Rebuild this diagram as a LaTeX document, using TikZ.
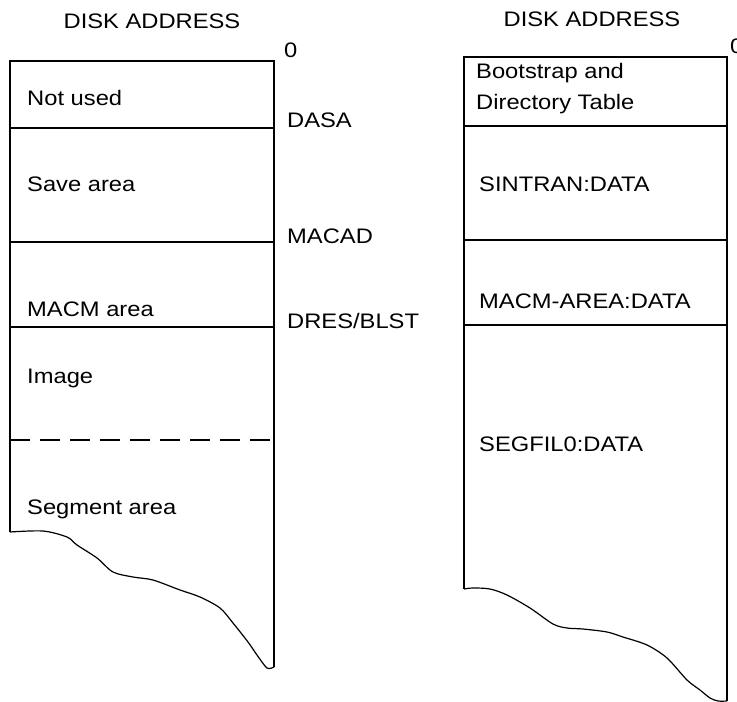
\documentclass[tikz,border=0pt]{standalone}
\usepackage{fontspec}
\setmainfont{Liberation Sans}[FakeStretch=1.13]
\begin{document}
\begin{tikzpicture}[x=1pt,y=-1pt,
  wall/.style={line width=1.7pt},
  sep/.style={line width=1.4pt},
  lbl/.style={anchor=west,inner sep=0pt,font=\fontsize{21}{25}\selectfont},
  hdr/.style={inner sep=0pt,font=\fontsize{21}{25}\selectfont},
  curve/.style={line width=1.2pt}]
\useasboundingbox (0,0) rectangle (737,702);
% headers
\node[hdr] (h1) at (152,21) {DISK ADDRESS};
\node[hdr] (h2) at (592,19) {DISK ADDRESS};
% left column
\draw[wall] (10,532) -- (10,61) -- (274,61) -- (274,667);
\draw[sep] (10,128) -- (274,128);
\draw[sep] (10,242) -- (274,242);
\draw[sep] (10,327) -- (274,327);
\draw[sep,dash pattern=on 20pt off 10pt] (10,440) -- (274,440);
\draw[curve] plot[smooth,tension=0.5] coordinates {(10,532) (43,531) (67,537) (77,545) (97,558) (113,572) (133,577) (153,580) (180,590) (200,597) (220,608) (233,623) (248,642) (257,655) (267,668) (274,667)};
\node[lbl] (nu) at (27,98) {Not used};
\node[lbl] (sa) at (27,184) {Save area};
\node[lbl] (ma) at (27,309) {MACM area};
\node[lbl] (im) at (27,378) {Image};
\node[lbl] (sg) at (27,509) {Segment area};
\node[lbl] (a0) at (284,50) {0};
\node[lbl] (a1) at (287,120) {DASA};
\node[lbl] (a2) at (287,236) {MACAD};
\node[lbl] (a3) at (287,321) {DRES/BLST};
% right column
\draw[wall] (464,589) -- (464,57) -- (727,57) -- (727,701);
\draw[sep] (464,126) -- (727,126);
\draw[sep] (464,240) -- (727,240);
\draw[sep] (464,325) -- (727,325);
\draw[curve] plot[smooth,tension=0.5] coordinates {(464,589) (473,588) (490,589) (507,595) (530,608) (553,624) (567,628) (583,629) (607,632) (623,637) (647,645) (667,658) (687,680) (700,690) (710,698) (718,701) (727,701)};
\node[lbl] (b1) at (476,73) {Bootstrap and};
\node[lbl] (b2) at (476,104) {Directory Table};
\node[lbl] (b3) at (479,184) {SINTRAN:DATA};
\node[lbl] (b4) at (479,301) {MACM-AREA:DATA};
\node[lbl] (b5) at (479,444) {SEGFIL0:DATA};
\node[lbl] (b0) at (730,46) {0};
\end{tikzpicture}
\end{document}
